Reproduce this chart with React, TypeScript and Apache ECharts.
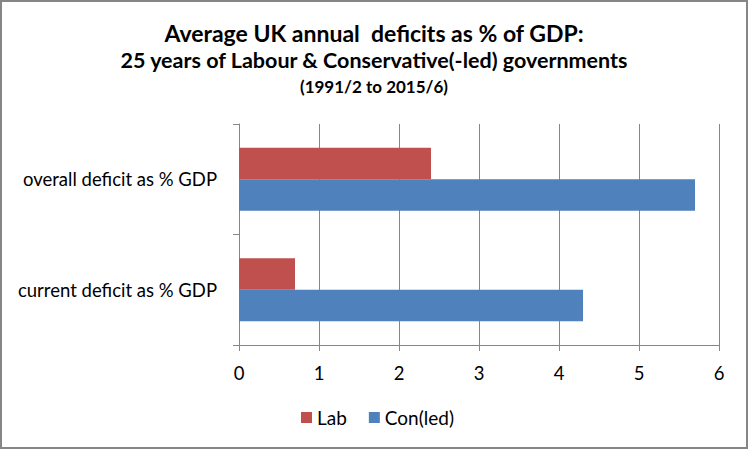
import React, { useEffect, useRef } from "react";
import * as echarts from "echarts";

const titleLines = [
  "Average UK annual  deficits as % of GDP:",
  "25 years of Labour & Conservative(-led) governments",
  "(1991/2 to 2015/6)",
];
// bottom-to-top order for the category axis
const categories = ["current deficit as % GDP", "overall deficit as % GDP"];
const seriesNames = ["Lab", "Con(led)"];
const labValues = [0.7, 2.4];
const conValues = [4.3, 5.7];
const xTicks = { min: 0, max: 6, interval: 1 };

const FONT = "Lato, 'Liberation Sans', sans-serif";
const GRAY = "#868686";

export default function App() {
  const ref = useRef<HTMLDivElement>(null);
  useEffect(() => {
    if (!ref.current) return;
    const chart = echarts.init(ref.current, undefined, { renderer: "svg" });
    chart.setOption({
      animation: false,
      backgroundColor: "#ffffff",
      textStyle: { fontFamily: FONT },
      title: [
        {
          text: titleLines[0],
          left: "center",
          top: 20,
          padding: 0,
          textStyle: { fontSize: 23, fontWeight: "bold", color: "#000", lineHeight: 26, fontFamily: FONT },
        },
        {
          text: titleLines[1],
          left: "center",
          top: 47.5,
          padding: 0,
          textStyle: { fontSize: 21.5, fontWeight: "bold", color: "#000", lineHeight: 24, fontFamily: FONT },
        },
        {
          text: titleLines[2],
          left: "center",
          top: 76,
          padding: 0,
          textStyle: { fontSize: 17, fontWeight: "bold", color: "#000", lineHeight: 20, fontFamily: FONT },
        },
      ],
      legend: {
        data: seriesNames,
        top: 403,
        left: 296,
        icon: "rect",
        itemWidth: 11,
        itemHeight: 11,
        itemGap: 22,
        textStyle: { fontSize: 19, color: "#000", fontFamily: FONT },
      },
      grid: { left: 239, right: 29, top: 124, bottom: 104, containLabel: false },
      xAxis: {
        type: "value",
        min: xTicks.min,
        max: xTicks.max,
        interval: xTicks.interval,
        axisLine: { show: true, lineStyle: { color: GRAY, width: 1 } },
        axisTick: { show: true, length: 6, lineStyle: { color: GRAY } },
        splitLine: { show: true, lineStyle: { color: GRAY, width: 1 } },
        axisLabel: { fontSize: 18.5, color: "#000", margin: 18, fontFamily: FONT },
      },
      yAxis: {
        type: "category",
        data: categories,
        axisLine: { show: true, lineStyle: { color: GRAY, width: 1 } },
        axisTick: { show: true, length: 6, lineStyle: { color: GRAY } },
        axisLabel: { fontSize: 18.5, color: "#000", margin: 22, fontFamily: FONT },
      },
      series: [
        {
          name: seriesNames[0],
          type: "bar",
          data: labValues,
          itemStyle: { color: "#C0504D" },
          barGap: "0%",
          barCategoryGap: "43%",
        },
        {
          name: seriesNames[1],
          type: "bar",
          data: conValues,
          itemStyle: { color: "#4F81BD" },
          barGap: "0%",
          barCategoryGap: "43%",
        },
      ],
      graphic: [
        {
          type: "rect",
          shape: { x: 1, y: 1, width: 746, height: 447 },
          style: { fill: "none", stroke: GRAY, lineWidth: 2 },
          silent: true,
          z: 100,
        },
      ],
    });
    return () => chart.dispose();
  }, []);
  return (
    <div
      ref={ref}
      style={{ position: "fixed", left: 0, top: 0, width: 748, height: 449 }}
    />
  );
}
